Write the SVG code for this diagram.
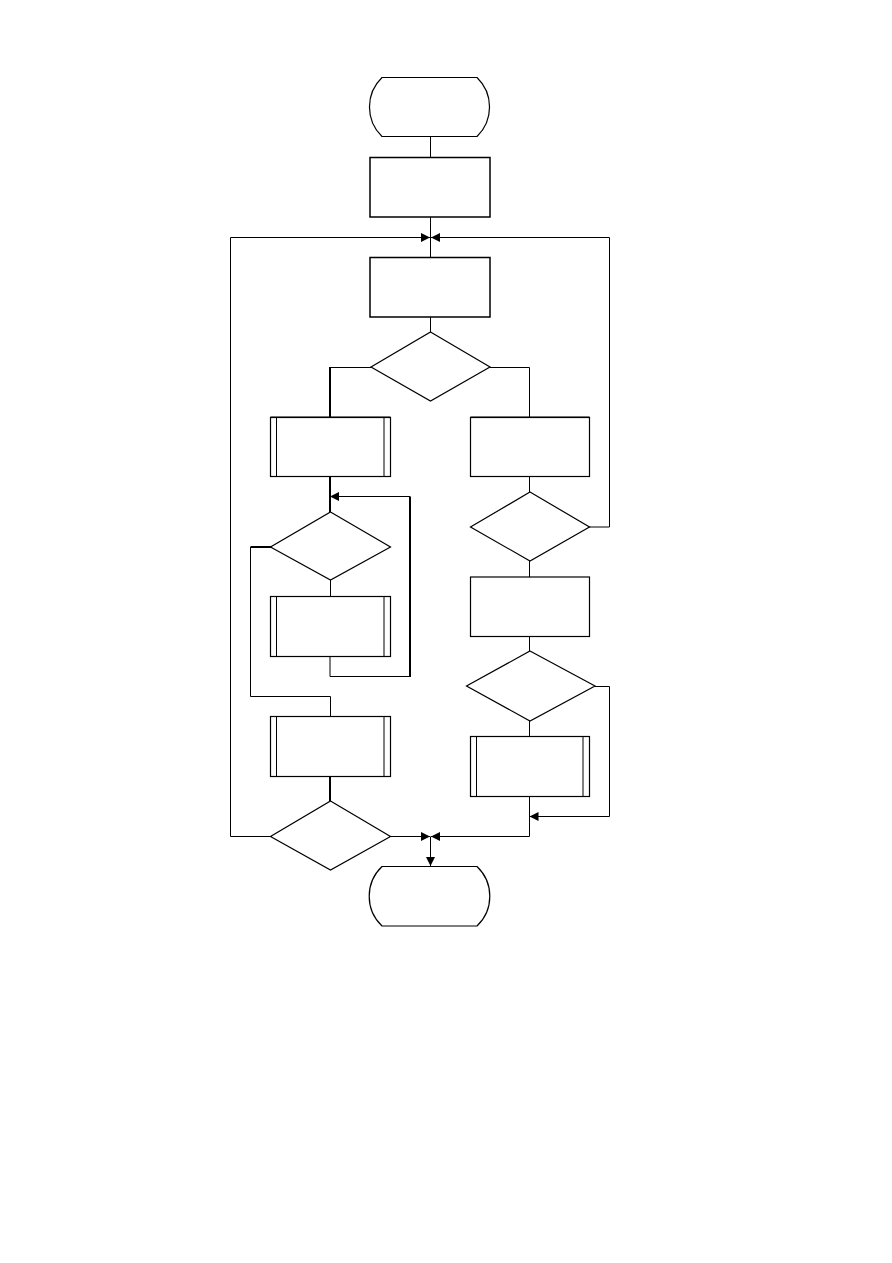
<svg xmlns="http://www.w3.org/2000/svg" width="892" height="1263" viewBox="0 0 892 1263">
<defs>
<marker id="arr" viewBox="0 0 10 10" refX="10" refY="5" markerWidth="9" markerHeight="9" markerUnits="userSpaceOnUse" orient="auto">
<path d="M0,0 L10,5 L0,10 z" fill="#000"/>
</marker>
<style>
.n{fill:#fff;stroke:#000;stroke-width:1.2}
.c{fill:none;stroke:#000;stroke-width:1}
.t{stroke-width:2}
.s{fill:none;stroke:#000;stroke-width:1}
</style>
</defs>
<rect width="892" height="1263" fill="#fff"/>
<g id="connectors">
<path class="c" d="M430.5,137 V157"/>
<path class="c" d="M430.5,217 V257"/>
<path class="c" d="M270,836.5 H230.5 V237.5 H430" marker-end="url(#arr)"/>
<path class="c" d="M589,527 H609.5 V237.5 H431" marker-end="url(#arr)"/>
<path class="c" d="M430.5,317 V332"/>
<path class="c" d="M371,367.5 H330"/>
<path class="c t" d="M330,367 V417"/>
<path class="c" d="M490,367.5 H529.5 V417"/>
<path class="c t" d="M330,476 V512"/>
<path class="c" d="M330,656 V676.5 H410"/>
<path class="c t" d="M410,677 V496.5"/>
<path class="c" d="M410,496.5 H330" marker-end="url(#arr)"/>
<path class="c" d="M330.5,580 V596"/>
<path class="c t" d="M271,547 H250.5"/>
<path class="c" d="M250.5,547 V696.5 H330.5 V716"/>
<path class="c t" d="M330,776 V801"/>
<path class="c" d="M390,836.5 H430" marker-end="url(#arr)"/>
<path class="c" d="M529.5,476 V492"/>
<path class="c" d="M529.5,561 V577"/>
<path class="c" d="M529.5,636 V651"/>
<path class="c" d="M529.5,721 V736"/>
<path class="c" d="M595,686.5 H609.5 V816.5 H529.5" marker-end="url(#arr)"/>
<path class="c" d="M529.5,796 V836.5 H431" marker-end="url(#arr)"/>
<path class="c" d="M430.5,836.5 V866" marker-end="url(#arr)"/>
</g>
<g id="start"><path class="n" d="M382,77.5 H477 A41,41 0 0 1 477,136.5 H382 A41,41 0 0 1 382,77.5 Z"/></g>
<g id="p1"><rect class="n" x="370" y="157.5" width="120" height="59.5" style="stroke-width:1.5"/></g>
<g id="p2"><rect class="n" x="370" y="257.5" width="120" height="59.5" style="stroke-width:1.5"/></g>
<g id="d1"><polygon class="n" points="430.5,332 490,367 430.5,401 371,367"/></g>
<g id="sub1"><rect class="n" x="270.5" y="417.5" width="120" height="59"/><path class="s" d="M276.5,417.5 V476.5 M384,417.5 V476.5"/><path class="s t" d="M270.5,417 H390.5"/></g>
<g id="p3"><rect class="n" x="470.5" y="417.5" width="119" height="59"/><path class="s t" d="M470.5,417 H589.5"/></g>
<g id="d2"><polygon class="n" points="330.5,512 390.5,547 330.5,580 270.5,547"/></g>
<g id="d3"><polygon class="n" points="530,492 589.5,527 530,561 470.5,527"/></g>
<g id="sub2"><rect class="n" x="270.5" y="596.5" width="120" height="60"/><path class="s" d="M276.5,596.5 V656.5 M384,596.5 V656.5"/></g>
<g id="p4"><rect class="n" x="470.5" y="577" width="119" height="59.5"/></g>
<g id="d5"><polygon class="n" points="530,651 595,686 530,721 466.5,686"/></g>
<g id="sub3"><rect class="n" x="270.5" y="716.5" width="120" height="60"/><path class="s" d="M276.5,716.5 V776.5 M384,716.5 V776.5"/></g>
<g id="sub4"><rect class="n" x="470.5" y="736.5" width="119" height="60"/><path class="s" d="M476.5,736.5 V796.5 M583,736.5 V796.5"/></g>
<g id="d4"><polygon class="n" points="330.5,801 390.5,836.5 330.5,870 270.5,836.5"/></g>
<g id="end"><path class="n" d="M382,866.5 H477 A41,41 0 0 1 477,926 H382 A41,41 0 0 1 382,866.5 Z"/></g>
</svg>
